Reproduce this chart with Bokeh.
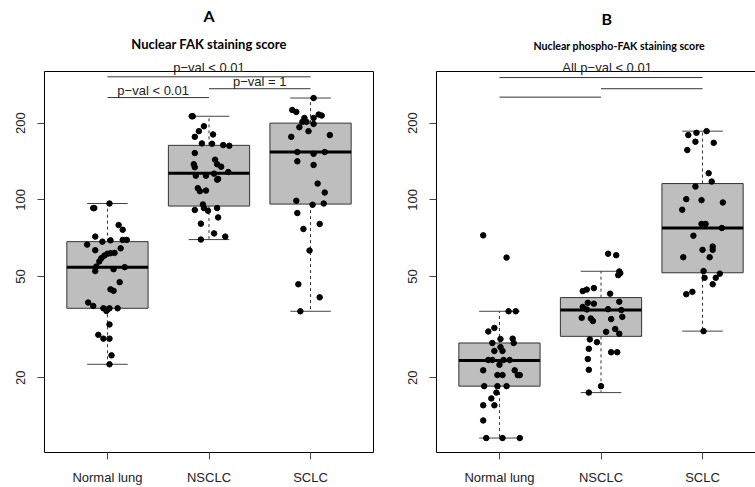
import numpy as np
from bokeh.plotting import figure
from bokeh.layouts import row
from bokeh.models import (FixedTicker, Label, Title, PrintfTickFormatter, Range1d, LinearAxis,
                          GlobalInlineStyleSheet)
from bokeh.embed import file_html
from bokeh.resources import INLINE

categories = ["Normal lung", "NSCLC", "SCLC"]
y_ticks = [20, 50, 100, 200]

# ---------------- Panel A: Nuclear FAK staining score ----------------
a_normal = [92.8, 92.8, 96.7, 79.6, 76.3, 71.7, 68.5, 69.3, 69.6, 69.6,
            66.7, 63.4, 64.5, 57.3, 59.0, 60.4, 61.4, 61.7, 61.9, 54.7,
            52.5, 53.4, 54.4, 47.5, 44.5, 43.9, 39.5, 38.3, 37.5, 37.5,
            37.5, 37.1, 36.6, 32.4, 29.5, 28.5, 28.5, 24.5, 22.6]
a_normal_jit = [-0.14, -0.13, 0.02, 0.11, 0.15, -0.12, -0.05, 0.03, 0.15, 0.19,
                -0.20, -0.12, 0.13, -0.08, -0.06, -0.03, 0.00, 0.03, 0.07, -0.11,
                -0.12, 0.06, 0.17, 0.12, 0.03, 0.06, -0.19, -0.14, -0.04, 0.02,
                0.10, 0.00, -0.01, 0.02, -0.09, -0.04, 0.02, 0.04, 0.02]
a_nsclc = [212.8, 212.8, 194.5, 186.0, 176.7, 180.6, 166.5, 166.0, 164.0, 163.0,
           152.6, 143.7, 137.9, 134.9, 137.9, 134.2, 128.6, 124.4, 124.4, 126.7,
           120.0, 120.8, 111.1, 108.1, 108.7, 95.9, 92.8, 90.6, 92.8, 91.2,
           85.3, 80.6, 73.8, 71.7, 69.8]
a_nsclc_jit = [-0.17, -0.16, -0.05, -0.10, -0.14, 0.04, -0.07, 0.03, 0.14, 0.20,
               -0.14, 0.06, 0.08, 0.12, -0.15, -0.14, 0.19, -0.13, -0.03, 0.05,
               0.08, 0.09, -0.11, -0.09, -0.03, -0.06, -0.05, -0.01, 0.08, -0.14,
               0.09, -0.08, 0.05, 0.16, -0.08]
a_sclc = [251.0, 225.3, 221.3, 216.2, 214.2, 209.6, 209.6, 202.3, 202.3, 192.8,
          198.6, 186.0, 176.7, 179.5, 154.0, 151.6, 154.0, 141.6, 137.0, 115.8,
          106.8, 99.1, 96.7, 95.6, 88.7, 80.4, 76.8, 63.2, 46.6, 41.4, 36.5]
a_sclc_jit = [0.03, -0.18, -0.14, 0.08, 0.11, -0.06, 0.03, -0.08, -0.04, -0.11,
              0.03, -0.02, -0.19, 0.19, -0.13, 0.03, 0.14, -0.13, 0.03, 0.07,
              0.14, -0.14, 0.13, 0.02, -0.13, 0.09, -0.07, -0.01, -0.12, 0.09, -0.10]
a_low = [22.6, 69.8, 36.5]
a_q1 = [37.5, 94.5, 96.2]
a_med = [54.4, 127.2, 154.0]
a_q3 = [68.5, 163.6, 200.0]
a_high = [96.7, 212.8, 251.0]
a_sig_x0 = [1, 2, 1]
a_sig_x1 = [3, 3, 2]
a_sig_y = [304, 273, 252]
a_top_text = "p\u2212val < 0.01"
a_top_tx = 2.0
a_sig_text = ["p\u2212val = 1", "p\u2212val < 0.01"]
a_sig_tx = [2.5, 1.45]
a_sig_ty = [273, 252]

# ---------------- Panel B: Nuclear phospho-FAK staining score ----------------
b_normal = [72.5, 59.3, 36.5, 36.5, 30.4, 31.4, 27.4, 28.4, 28.5, 27.4,
            25.5, 26.4, 25.5, 23.5, 23.5, 23.5, 23.5, 22.5, 21.4, 20.5,
            20.5, 21.4, 20.5, 20.5, 18.55, 18.55, 18.55, 17.5, 16.6, 15.6,
            15.6, 13.6, 11.6, 11.6, 11.6]
b_normal_jit = [-0.16, 0.07, 0.09, 0.16, -0.11, -0.05, -0.07, 0.01, 0.13, 0.14,
                -0.05, 0.01, 0.03, -0.11, -0.07, 0.04, 0.10, 0.00, -0.16, -0.02,
                0.03, 0.15, 0.18, 0.20, -0.15, -0.02, 0.07, -0.03, -0.08, -0.16,
                -0.05, -0.16, -0.13, 0.03, 0.20]
b_nsclc = [61.4, 60.6, 52.3, 51.5, 50.6, 43.8, 44.4, 45.0, 42.8, 39.8,
           39.4, 39.1, 37.95, 37.1, 37.2, 36.9, 34.4, 34.2, 33.4, 34.0,
           34.7, 30.3, 31.1, 29.8, 28.3, 27.6, 26.0, 25.2, 25.2, 23.7,
           21.5, 18.55, 17.5]
b_nsclc_jit = [0.07, 0.15, 0.18, 0.19, 0.17, -0.18, -0.14, -0.07, 0.09, 0.18,
               -0.13, -0.07, -0.18, -0.14, 0.07, 0.20, -0.19, -0.10, -0.08, 0.10,
               0.21, 0.05, 0.14, 0.18, -0.11, -0.04, -0.12, 0.10, 0.16, -0.13,
               -0.12, 0.00, -0.12]
b_sclc = [186.0, 183.2, 179.5, 169.0, 167.4, 156.8, 127.2, 117.9, 112.7, 100.6,
          99.7, 97.6, 91.4, 80.4, 80.4, 77.5, 72.3, 65.5, 63.6, 63.6,
          59.5, 59.5, 52.5, 51.3, 49.4, 49.4, 46.6, 43.5, 42.6, 30.5]
b_sclc_jit = [0.04, -0.06, -0.14, -0.07, 0.11, -0.15, 0.06, 0.09, -0.07, -0.16,
              -0.01, 0.20, -0.20, -0.01, 0.03, 0.19, -0.09, 0.10, 0.10, 0.00,
              -0.19, 0.07, 0.01, 0.17, 0.02, 0.13, 0.10, -0.10, -0.16, 0.01]
b_low = [11.6, 17.5, 30.5]
b_q1 = [18.55, 29.1, 51.7]
b_med = [23.4, 36.9, 77.5]
b_q3 = [27.4, 41.3, 115.8]
b_high = [36.5, 52.4, 186.0]
b_sig_x0 = [1, 2, 1]
b_sig_x1 = [3, 3, 2]
b_sig_y = [302, 273, 253]
b_top_text = "All p\u2212val < 0.01"
b_top_tx = 2.06
b_sig_text = []
b_sig_tx = []
b_sig_ty = []

AX_FONT = "Liberation Sans"
TITLE_FONT = "Lato"
Y_MIN, Y_MAX = 10.18, 319.0
H = 487
TOP, BOTTOM = 70, 34


def make_panel(border_left, groups, jits, low, q1, med, q3, high,
               sx0, sx1, sy, top_text, top_tx, stext, stx, sty):
    p = figure(width=border_left + 329 + 27, height=H, output_backend="svg", toolbar_location=None,
               y_axis_type="log", x_range=Range1d(0.38, 3.62),
               y_range=Range1d(Y_MIN, Y_MAX),
               min_border_left=border_left, min_border_right=27,
               min_border_top=TOP, min_border_bottom=BOTTOM,
               background_fill_color="white", border_fill_color="white")
    p.grid.visible = False
    p.outline_line_color = "black"
    p.outline_line_width = 1

    cats = np.arange(1, len(categories) + 1)
    # boxes
    p.quad(left=cats - 0.4, right=cats + 0.4, bottom=q1, top=q3,
           fill_color="#BEBEBE", line_color="#333333", line_width=1)
    # whiskers (dashed)
    p.segment(x0=cats, y0=q3, x1=cats, y1=high, line_color="#333333", line_dash="3 3", line_width=1)
    p.segment(x0=cats, y0=q1, x1=cats, y1=low, line_color="#333333", line_dash="3 3", line_width=1)
    # staples
    p.segment(x0=cats - 0.2, y0=high, x1=cats + 0.2, y1=high, line_color="#444444", line_width=1)
    p.segment(x0=cats - 0.2, y0=low, x1=cats + 0.2, y1=low, line_color="#444444", line_width=1)
    # medians
    p.segment(x0=cats - 0.4, y0=med, x1=cats + 0.4, y1=med, line_color="black", line_width=3)

    # jittered points
    xs, ys = [], []
    for i, (vals, jit) in enumerate(zip(groups, jits)):
        xs.extend(list(cats[i] + np.array(jit)))
        ys.extend(vals)
    p.scatter(x=xs, y=ys, size=5.5, color="black")

    # significance lines
    p.segment(x0=sx0, y0=sy, x1=sx1, y1=sy, line_color="#333333", line_width=1)
    for t, tx, ty in zip(stext, stx, sty):
        p.add_layout(Label(x=tx, y=ty, text=t, text_font=AX_FONT, text_font_size="13px",
                           text_color="#222222", text_align="center",
                           text_baseline="bottom"))

    # axes
    xa = p.xaxis[0]
    xa.ticker = FixedTicker(ticks=list(cats))
    xa.major_label_overrides = {int(c): n for c, n in zip(cats, categories)}
    xa.minor_tick_line_color = None
    xa.major_tick_in = 0
    xa.major_tick_out = 7
    xa.major_tick_line_color = "#444444"
    xa.major_label_standoff = 10
    xa.major_label_text_font = AX_FONT
    xa.major_label_text_font_size = "13px"
    xa.major_label_text_color = "#222222"
    xa.axis_line_color = None

    ya = p.yaxis[0]
    ya.ticker = FixedTicker(ticks=y_ticks, minor_ticks=[])
    ya.formatter = PrintfTickFormatter(format="%d")
    ya.major_tick_in = 0
    ya.major_tick_out = 7
    ya.major_tick_line_color = "#444444"
    ya.minor_tick_line_color = None
    ya.major_label_orientation = "vertical"
    ya.major_label_standoff = 12
    ya.major_label_text_font = AX_FONT
    ya.major_label_text_font_size = "13px"
    ya.major_label_text_color = "#222222"
    ya.axis_line_color = None

    # top-most p-value text, straddling the frame border (drawn as an unclipped guide)
    top_ax = LinearAxis(ticker=FixedTicker(ticks=[top_tx], minor_ticks=[]),
                        major_label_overrides={top_tx: top_text},
                        axis_line_color=None, major_tick_line_color=None, minor_tick_line_color=None,
                        major_tick_in=0, major_tick_out=0, minor_tick_in=0, minor_tick_out=0,
                        major_label_standoff=-3, major_label_text_font=AX_FONT,
                        major_label_text_font_size="13px", major_label_text_color="#222222")
    p.add_layout(top_ax, "above")
    return p


pa = make_panel(44, [a_normal, a_nsclc, a_sclc], [a_normal_jit, a_nsclc_jit, a_sclc_jit],
                a_low, a_q1, a_med, a_q3, a_high,
                a_sig_x0, a_sig_x1, a_sig_y, a_top_text, a_top_tx, a_sig_text, a_sig_tx, a_sig_ty)
pa.add_layout(Title(text="Nuclear FAK staining score", align="center", text_font=TITLE_FONT,
                    text_font_style="bold", text_font_size="13px", text_color="black",
                    standoff=10), "above")
pa.add_layout(Title(text="A", align="center", text_font=TITLE_FONT, text_font_style="bold",
                    text_font_size="16px", text_color="black", standoff=7), "above")

pb = make_panel(36, [b_normal, b_nsclc, b_sclc], [b_normal_jit, b_nsclc_jit, b_sclc_jit],
                b_low, b_q1, b_med, b_q3, b_high,
                b_sig_x0, b_sig_x1, b_sig_y, b_top_text, b_top_tx, b_sig_text, b_sig_tx, b_sig_ty)
pb.add_layout(Title(text="Nuclear phospho-FAK staining score", align="left", offset=97,
                    text_font=TITLE_FONT, text_font_style="bold", text_font_size="10.6px",
                    text_color="black", standoff=10), "above")
pb.add_layout(Title(text="B", align="left", offset=165, text_font=TITLE_FONT, text_font_style="bold",
                    text_font_size="16px", text_color="black", standoff=10), "above")

layout = row(pa, pb, stylesheets=[GlobalInlineStyleSheet(css="html, body { overflow: hidden; }")])

open("out.html", "w").write(file_html(layout, INLINE))
